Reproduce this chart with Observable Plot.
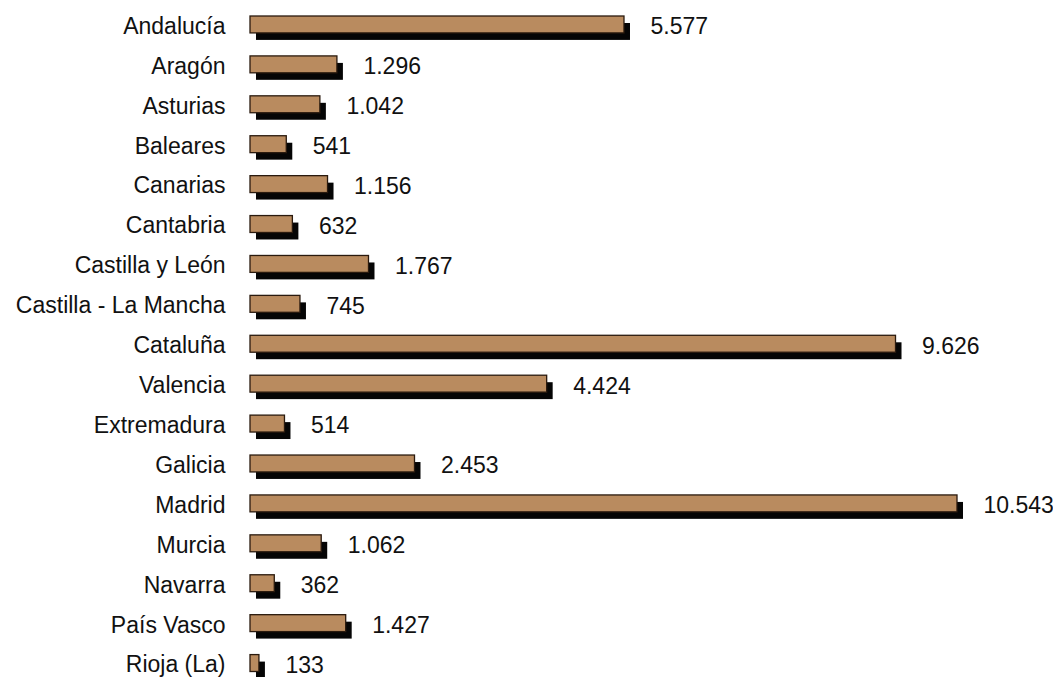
<!DOCTYPE html>
<html>
<head>
<meta charset="utf-8">
<script src="https://cdn.jsdelivr.net/npm/d3@7"></script>
<script src="https://cdn.jsdelivr.net/npm/@observablehq/plot@0.6"></script>
<style>
  html, body { margin: 0; padding: 0; background: #fff; }
  #chart svg { display: block; overflow: visible; }
</style>
</head>
<body>
<div id="chart"></div>
<script>
const regions = ["Andalucía", "Aragón", "Asturias", "Baleares", "Canarias", "Cantabria",
  "Castilla y León", "Castilla - La Mancha", "Cataluña", "Valencia", "Extremadura",
  "Galicia", "Madrid", "Murcia", "Navarra", "País Vasco", "Rioja (La)"];
const counts = [5577, 1296, 1042, 541, 1156, 632, 1767, 745, 9626, 4424, 514, 2453, 10543, 1062, 362, 1427, 133];

const data = regions.map((r, i) => ({region: r, value: counts[i]}));
const fmt = d3.formatLocale({decimal: ",", thousands: ".", grouping: [3], currency: ["", "€"]}).format(",");

const chart = Plot.plot({
  width: 1053,
  height: 677,
  marginLeft: 250,
  marginRight: 96,
  marginTop: 0,
  marginBottom: 0,
  style: {fontFamily: "'Liberation Sans', Arial, sans-serif", fontSize: "23px", color: "#111", background: "#fff"},
  x: {domain: [0, d3.max(counts)], axis: null},
  y: {domain: regions, range: [4.5, 683], padding: 0, round: false, label: null},
  marks: [
    Plot.barX(data, {x: "value", y: "region", fill: "#050505", insetTop: 11.5, insetBottom: 11.5, dx: 6, dy: 7}),
    Plot.barX(data, {x: "value", y: "region", fill: "#b98b5f", stroke: "#2a1a0e", strokeWidth: 1.3, insetTop: 11.5, insetBottom: 11.5}),
    Plot.axisY({tickSize: 0, tickPadding: 25, fontSize: 23, dy: 1.5, label: null}),
    Plot.text(data, {x: "value", y: "region", text: d => fmt(d.value), textAnchor: "start", dx: 26, dy: 2, fontSize: 23, fill: "#111"})
  ]
});
document.getElementById("chart").appendChild(chart);
</script>
</body>
</html>
